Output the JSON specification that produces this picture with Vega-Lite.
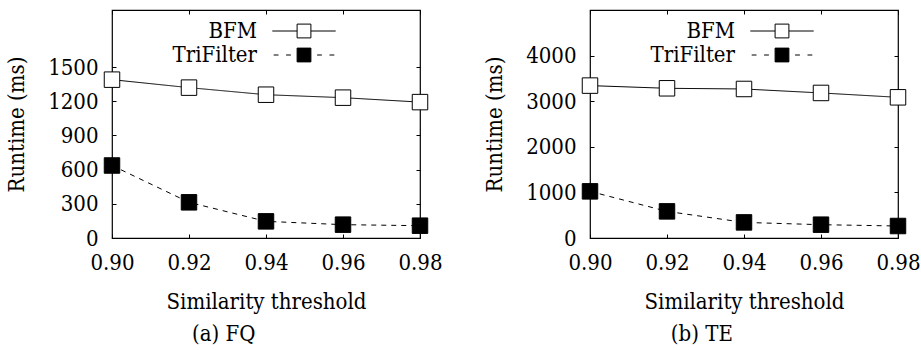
{
  "$schema": "https://vega.github.io/schema/vega-lite/v6.json",
  "background": "white",
  "padding": {"left": 5, "top": 8, "right": 5, "bottom": 2},
  "datasets": {
    "fq": [
      {"t": 0.90, "ms": 1389, "series": "BFM"},
      {"t": 0.92, "ms": 1319, "series": "BFM"},
      {"t": 0.94, "ms": 1257, "series": "BFM"},
      {"t": 0.96, "ms": 1231, "series": "BFM"},
      {"t": 0.98, "ms": 1192, "series": "BFM"},
      {"t": 0.90, "ms": 636, "series": "TriFilter"},
      {"t": 0.92, "ms": 313, "series": "TriFilter"},
      {"t": 0.94, "ms": 146, "series": "TriFilter"},
      {"t": 0.96, "ms": 117, "series": "TriFilter"},
      {"t": 0.98, "ms": 108, "series": "TriFilter"}
    ],
    "te": [
      {"t": 0.90, "ms": 3342, "series": "BFM"},
      {"t": 0.92, "ms": 3283, "series": "BFM"},
      {"t": 0.94, "ms": 3268, "series": "BFM"},
      {"t": 0.96, "ms": 3181, "series": "BFM"},
      {"t": 0.98, "ms": 3085, "series": "BFM"},
      {"t": 0.90, "ms": 1023, "series": "TriFilter"},
      {"t": 0.92, "ms": 584, "series": "TriFilter"},
      {"t": 0.94, "ms": 342, "series": "TriFilter"},
      {"t": 0.96, "ms": 292, "series": "TriFilter"},
      {"t": 0.98, "ms": 263, "series": "TriFilter"}
    ]
  },
  "config": {
    "view": {"stroke": "black", "strokeWidth": 1.2},
    "font": "DejaVu Serif Condensed",
    "axis": {
      "domain": false, "grid": false, "tickColor": "black", "tickSize": -4, "tickWidth": 1,
      "labelFont": "DejaVu Serif Condensed", "labelFontSize": 22, "labelColor": "black", "labelFlush": false,
      "titleFont": "DejaVu Serif Condensed", "titleFontSize": 22, "titleFontWeight": "normal", "titleColor": "black"
    },
    "legend": {
      "labelFont": "DejaVu Serif Condensed", "labelFontSize": 22, "labelColor": "black"
    }
  },
  "resolve": {"scale": {"color": "independent"}, "legend": {"color": "independent"}},
  "spacing": 40,
  "hconcat": [
    {
      "title": {"text": "(a) FQ", "orient": "bottom", "frame": "bounds", "anchor": "middle", "font": "DejaVu Serif Condensed", "fontSize": 22, "fontWeight": "normal", "color": "black", "offset": 12},
      "width": 308, "height": 228,
      "data": {"name": "fq"},
      "resolve": {"axis": {"x": "independent", "y": "independent"}},
      "layer": [
        {
          "mark": {"type": "line", "color": "black", "strokeWidth": 1},
          "encoding": {
            "x": {"field": "t", "type": "quantitative", "scale": {"domain": [0.9, 0.98], "nice": false, "zero": false},
              "axis": {"orient": "bottom", "values": [0.9, 0.92, 0.94, 0.96, 0.98], "format": ".2f", "title": "Similarity threshold", "labelPadding": 18, "titlePadding": 18}},
            "y": {"field": "ms", "type": "quantitative", "scale": {"domain": [0, 2000], "nice": false},
              "axis": {"orient": "left", "values": [0, 300, 600, 900, 1200, 1500], "format": "d", "title": "Runtime (ms)", "labelPadding": 18, "titlePadding": 19}},
            "detail": {"field": "series", "type": "nominal"},
            "strokeDash": {"condition": {"test": "datum.series === 'TriFilter'", "value": [5, 5]}, "value": [1, 0]}
          }
        },
        {
          "mark": {"type": "point", "shape": "square", "filled": true, "size": 240, "stroke": "black", "strokeWidth": 1, "opacity": 1},
          "encoding": {
            "x": {"field": "t", "type": "quantitative", "scale": {"domain": [0.9, 0.98], "nice": false, "zero": false},
              "axis": {"orient": "top", "values": [0.9, 0.92, 0.94, 0.96, 0.98], "labels": false, "title": null}},
            "y": {"field": "ms", "type": "quantitative", "scale": {"domain": [0, 2000], "nice": false},
              "axis": {"orient": "right", "values": [0, 300, 600, 900, 1200, 1500], "labels": false, "title": null}},
            "color": {"field": "series", "type": "nominal", "scale": {"domain": ["BFM", "TriFilter"], "range": ["white", "black"]},
              "legend": {
                "title": null, "orient": "none", "legendX": 181, "legendY": 10,
                "symbolSize": 190, "symbolStrokeColor": "black", "symbolStrokeWidth": 1, "symbolOpacity": 1,
                "labelAlign": "right", "labelOffset": -58, "rowPadding": 2,
                "encode": {"symbols": {"update": {"shape": {"signal": "datum.value === 'BFM' ? 'M-1,-1H1V1H-1Z M-4.6,0H-1 M1,0H4.6' : 'M-1,-1H1V1H-1Z M-4.4,0H-3.7 M-2.6,0H-1.9 M1.9,0H2.6 M3.7,0H4.4'"}, "stroke": {"value": "black"}}}}
              }}
          }
        }
      ]
    },
    {
      "title": {"text": "(b) TE", "orient": "bottom", "frame": "bounds", "anchor": "middle", "font": "DejaVu Serif Condensed", "fontSize": 22, "fontWeight": "normal", "color": "black", "offset": 12},
      "width": 308, "height": 228,
      "data": {"name": "te"},
      "resolve": {"axis": {"x": "independent", "y": "independent"}},
      "layer": [
        {
          "mark": {"type": "line", "color": "black", "strokeWidth": 1},
          "encoding": {
            "x": {"field": "t", "type": "quantitative", "scale": {"domain": [0.9, 0.98], "nice": false, "zero": false},
              "axis": {"orient": "bottom", "values": [0.9, 0.92, 0.94, 0.96, 0.98], "format": ".2f", "title": "Similarity threshold", "labelPadding": 18, "titlePadding": 18}},
            "y": {"field": "ms", "type": "quantitative", "scale": {"domain": [0, 5000], "nice": false},
              "axis": {"orient": "left", "values": [0, 1000, 2000, 3000, 4000], "format": "d", "title": "Runtime (ms)", "labelPadding": 18, "titlePadding": 19}},
            "detail": {"field": "series", "type": "nominal"},
            "strokeDash": {"condition": {"test": "datum.series === 'TriFilter'", "value": [5, 5]}, "value": [1, 0]}
          }
        },
        {
          "mark": {"type": "point", "shape": "square", "filled": true, "size": 240, "stroke": "black", "strokeWidth": 1, "opacity": 1},
          "encoding": {
            "x": {"field": "t", "type": "quantitative", "scale": {"domain": [0.9, 0.98], "nice": false, "zero": false},
              "axis": {"orient": "top", "values": [0.9, 0.92, 0.94, 0.96, 0.98], "labels": false, "title": null}},
            "y": {"field": "ms", "type": "quantitative", "scale": {"domain": [0, 5000], "nice": false},
              "axis": {"orient": "right", "values": [0, 1000, 2000, 3000, 4000], "labels": false, "title": null}},
            "color": {"field": "series", "type": "nominal", "scale": {"domain": ["BFM", "TriFilter"], "range": ["white", "black"]},
              "legend": {
                "title": null, "orient": "none", "legendX": 181, "legendY": 10,
                "symbolSize": 190, "symbolStrokeColor": "black", "symbolStrokeWidth": 1, "symbolOpacity": 1,
                "labelAlign": "right", "labelOffset": -58, "rowPadding": 2,
                "encode": {"symbols": {"update": {"shape": {"signal": "datum.value === 'BFM' ? 'M-1,-1H1V1H-1Z M-4.6,0H-1 M1,0H4.6' : 'M-1,-1H1V1H-1Z M-4.4,0H-3.7 M-2.6,0H-1.9 M1.9,0H2.6 M3.7,0H4.4'"}, "stroke": {"value": "black"}}}}
              }}
          }
        }
      ]
    }
  ]
}
